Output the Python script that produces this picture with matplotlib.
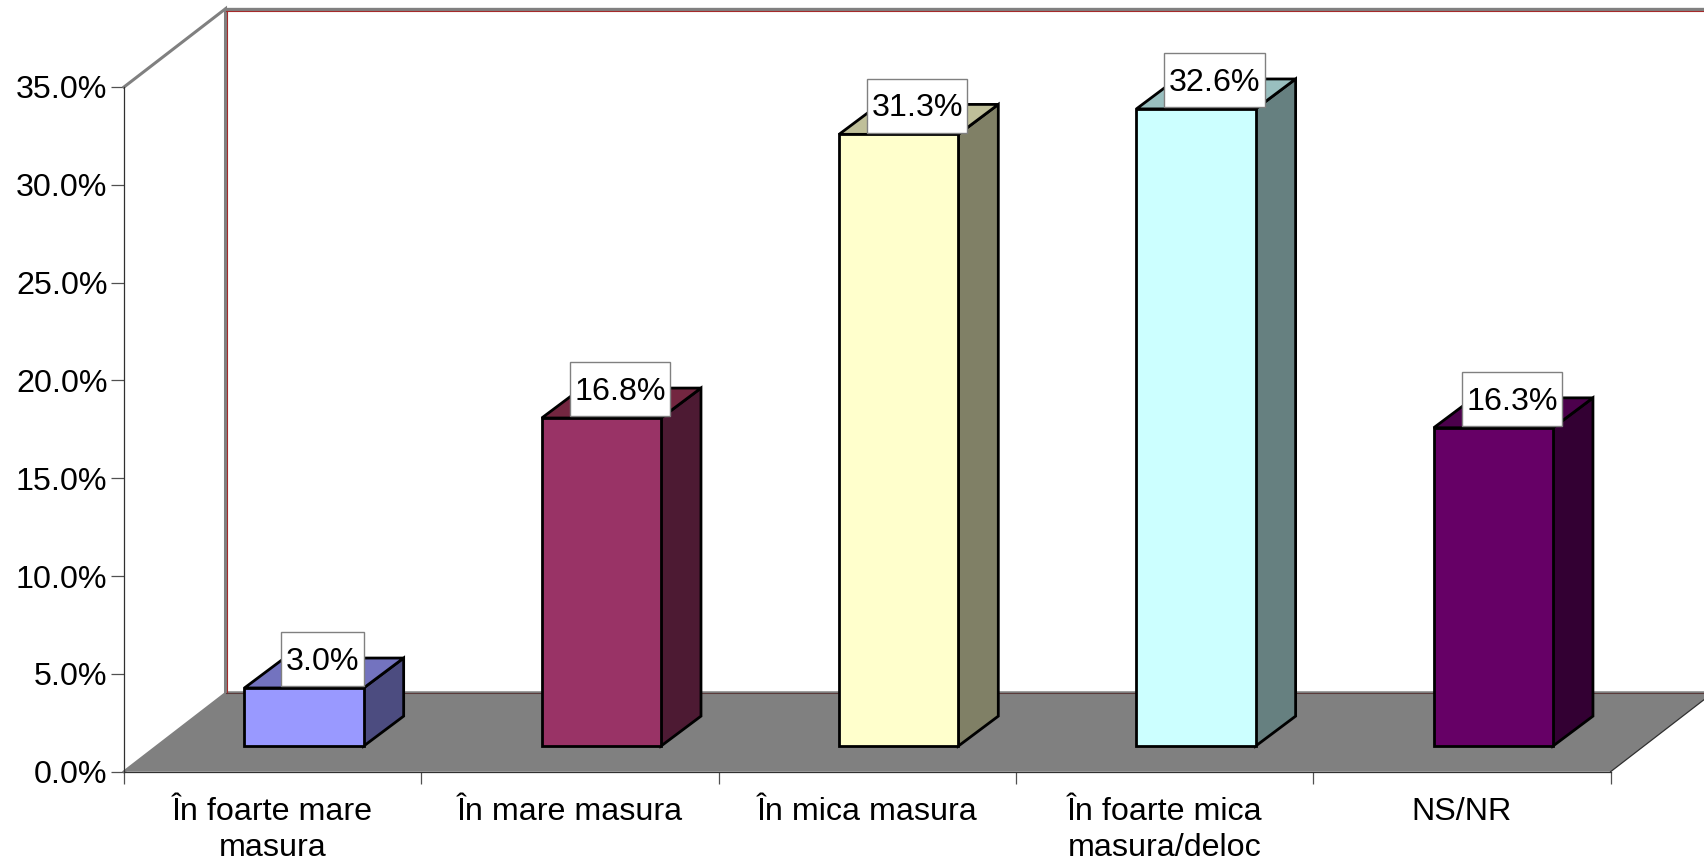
import matplotlib
matplotlib.use("Agg")
import matplotlib.pyplot as plt
from matplotlib.patches import Polygon, Rectangle

plt.rcParams['font.family'] = ['Liberation Sans', 'DejaVu Sans']

categories = ["În foarte mare\nmasura", "În mare masura", "În mica masura",
              "În foarte mica\nmasura/deloc", "NS/NR"]
values = [3.0, 16.8, 31.3, 32.6, 16.3]
value_labels = ["3.0%", "16.8%", "31.3%", "32.6%", "16.3%"]
y_ticks = [0, 5, 10, 15, 20, 25, 30, 35]
y_tick_labels = ["0.0%", "5.0%", "10.0%", "15.0%", "20.0%", "25.0%", "30.0%", "35.0%"]
front_colors = ["#9999FF", "#993366", "#FFFFCC", "#CCFFFF", "#660066"]
top_colors = ["#7373BF", "#732640", "#BFBF99", "#99BFBF", "#4C004C"]
side_colors = ["#4C4C80", "#4D1A33", "#808066", "#668080", "#330033"]

W, H = 1704, 866
FS = 23.2
fig = plt.figure(figsize=(W / 100, H / 100), dpi=100, facecolor="white")
ax = fig.add_axes([124 / W, (H - 771.7) / H, (1610.6 - 124) / W, 684.7 / H])
ax.set_xlim(0, 5)
ax.set_ylim(0, 35)
ax.patch.set_visible(False)
for s in ("top", "right"):
    ax.spines[s].set_visible(False)
for s in ("left", "bottom"):
    ax.spines[s].set_color("#303030")
    ax.spines[s].set_linewidth(0.9)
    ax.spines[s].set_zorder(6)

# 3-D projection constants, in data units
WALL_DX, WALL_DY = 0.3414, 4.0
BAR_W = 0.401
BAR_SHIFT = 0.1056
BASE_Y = 1.31
BAR_DX, BAR_DY = 0.1345, 1.53
LABEL_SHIFT = 0.0622
XMAX = len(categories)
YMAX = y_ticks[-1]

# walls and floor
ax.add_patch(Polygon([(0, 0), (XMAX, 0), (XMAX + WALL_DX, WALL_DY), (WALL_DX, WALL_DY)],
                     closed=True, fc="#808080", ec="none", clip_on=False, zorder=1))
ax.plot([0, WALL_DX, WALL_DX], [YMAX, YMAX + WALL_DY, WALL_DY], color="#808080", lw=2.2,
        clip_on=False, zorder=2, solid_joinstyle="miter")
ax.plot([WALL_DX, XMAX + WALL_DX], [YMAX + WALL_DY] * 2, color="#808080", lw=2.4, clip_on=False, zorder=2)
ax.plot([0, WALL_DX], [0, WALL_DY], color="#808080", lw=2.0, clip_on=False, zorder=2)
ax.plot([XMAX, XMAX + WALL_DX], [0, WALL_DY], color="#303030", lw=0.9, clip_on=False, zorder=2)
ax.plot([WALL_DX, XMAX + WALL_DX], [WALL_DY + 0.09] * 2, color="#808080", lw=1.8, clip_on=False, zorder=2)
ax.plot([WALL_DX + 0.005] * 2, [WALL_DY, YMAX + WALL_DY - 0.1], color="#A52A2A", lw=0.8, clip_on=False, zorder=2.1)
ax.plot([WALL_DX, XMAX + WALL_DX], [YMAX + WALL_DY - 0.1] * 2, color="#A52A2A", lw=0.8, clip_on=False, zorder=2.1)
ax.plot([WALL_DX, XMAX + WALL_DX], [WALL_DY + 0.0] * 2, color="#5a3a3a", lw=0.8, clip_on=False, zorder=2.1)

# bars
renderer = fig.canvas.get_renderer()
for i, (v, lab) in enumerate(zip(values, value_labels)):
    x0 = i + 0.5 + BAR_SHIFT - BAR_W / 2
    x1 = x0 + BAR_W
    y0 = BASE_Y
    y1 = BASE_Y + v - 0.03
    style = dict(ec="black", lw=2.0, joinstyle="miter", clip_on=False, zorder=3 + i * 0.01)
    ax.add_patch(Polygon([(x1, y0), (x1 + BAR_DX, y0 + BAR_DY), (x1 + BAR_DX, y1 + BAR_DY), (x1, y1)],
                         closed=True, fc=side_colors[i], **style))
    ax.add_patch(Polygon([(x0, y1), (x1, y1), (x1 + BAR_DX, y1 + BAR_DY), (x0 + BAR_DX, y1 + BAR_DY)],
                         closed=True, fc=top_colors[i], **style))
    ax.add_patch(Rectangle((x0, y0), BAR_W, y1 - y0, fc=front_colors[i], **style))

    cx = i + 0.5 + BAR_SHIFT + LABEL_SHIFT
    box_y = y1 + 0.08
    t = ax.text(cx, box_y + 0.85, lab, ha="center", va="baseline", fontsize=FS,
                color="black", zorder=5, clip_on=False)
    ext = t.get_window_extent(renderer)
    w_data = (ext.width + 9) / (1486.6 / XMAX)
    ax.add_patch(Rectangle((cx - w_data / 2, box_y), w_data, 2.76, fc="white", ec="#808080",
                           lw=1.0, clip_on=False, zorder=4.5))

# axes ticks
ax.set_yticks(y_ticks)
ax.set_yticklabels(y_tick_labels, fontsize=FS, color="black")
ax.tick_params(axis="y", length=9.4, width=0.9, color="#505050", pad=2.5)
ax.set_xticks(range(XMAX + 1))
ax.set_xticklabels([])
ax.tick_params(axis="x", which="major", length=8.5, width=0.9, color="#505050")
ax.set_xticks([i + 0.5 for i in range(XMAX)], minor=True)
ax.set_xticklabels(categories, minor=True, fontsize=FS, color="black", linespacing=1.25)
ax.tick_params(axis="x", which="minor", length=0, pad=18.5)

fig.savefig("out.png", dpi=100, facecolor="white")
